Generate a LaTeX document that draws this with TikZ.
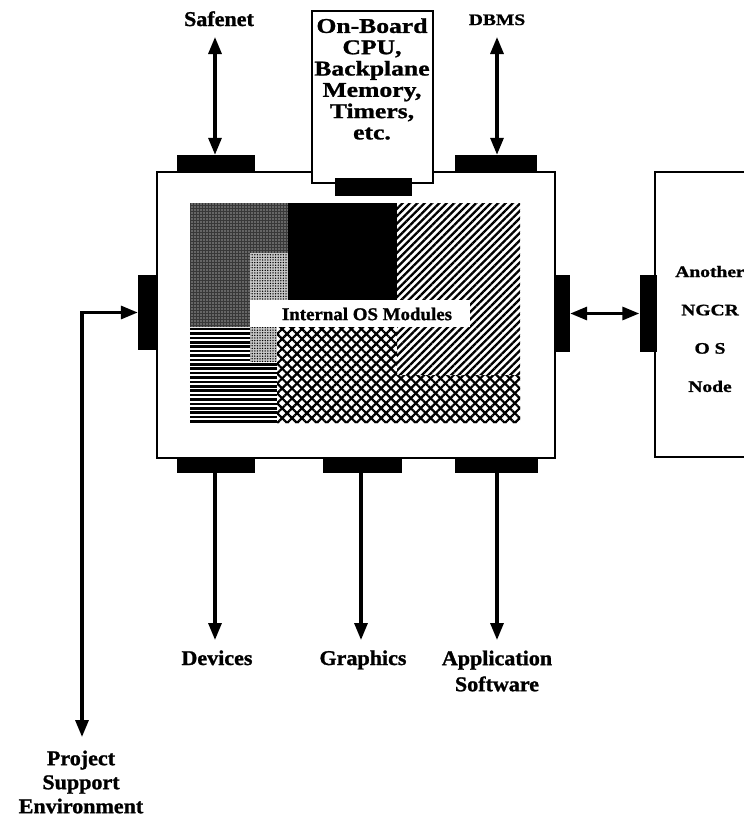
\documentclass[tikz,border=0pt]{standalone}
\usepackage{fontspec}
\setmainfont{Liberation Serif}[FakeStretch=1.05, BoldFeatures={FakeBold=1.2}]
\newfontfamily\widefont{Liberation Serif}[FakeStretch=1.22, BoldFeatures={FakeBold=1.2}]
\usetikzlibrary{arrows.meta,patterns.meta}
\begin{document}
\begin{tikzpicture}[x=1pt,y=-1pt,
  port/.style={fill=black, draw=none, inner sep=0pt, rectangle},
  hport/.style={port, minimum width=78pt, minimum height=17pt},
  vport/.style={port, minimum width=16pt, minimum height=77pt},
  lbl/.style={font=\bfseries\fontsize{21}{25}\selectfont, align=center, inner sep=0pt},
  smalllbl/.style={font=\widefont\bfseries\fontsize{16}{18}\selectfont, align=center, inner sep=0pt},
  boxst/.style={draw, line width=2.8pt, fill=white, inner sep=0pt, rectangle},
  tip/.tip={Triangle[length=17pt,width=13pt]},
  conn/.style={line width=3.2pt, tip-tip},
  connd/.style={line width=3.2pt, -tip}]
\useasboundingbox (0,0) rectangle (744,819);

% main OS node
\node[boxst, minimum width=398pt, minimum height=286pt] (main) at (356,315) {};

% internal modules
\fill[black!78] (190,203) -- (288,203) -- (288,253) -- (250,253) -- (250,327) -- (190,327) -- cycle;
\fill[pattern={Dots[distance=3pt,radius=0.6pt]}, pattern color=white]
  (190,203) -- (288,203) -- (288,253) -- (250,253) -- (250,327) -- (190,327) -- cycle;
\fill[black!22] (250,253) rectangle (288,300);
\fill[black!22] (250,327) rectangle (277,362);
\fill[pattern={Dots[distance=2.6pt,radius=0.75pt]}, pattern color=black] (250,253) rectangle (288,300);
\fill[pattern={Dots[distance=2.6pt,radius=0.75pt]}, pattern color=black] (250,327) rectangle (277,362);
\fill[black] (288,203) rectangle (397,300);
\fill[pattern={Lines[angle=45,distance=5.2pt,line width=2.3pt]}, pattern color=black]
  (397,203) -- (520,203) -- (520,375) -- (397,375) -- (397,300) -- cycle;
\begin{scope}
  \clip (190,327) -- (250,327) -- (250,362) -- (277,362) -- (277,423) -- (190,423) -- cycle;
  \foreach \yy in {329,333.4,...,424} \draw[line width=2.6pt] (190,\yy) -- (277,\yy);
\end{scope}
\fill[pattern={Lines[angle=45,distance=7pt,line width=2.2pt]}, pattern color=black]
  (277,327) -- (397,327) -- (397,375) -- (520,375) -- (520,423) -- (277,423) -- cycle;
\fill[pattern={Lines[angle=-45,distance=7pt,line width=2.2pt]}, pattern color=black]
  (277,327) -- (397,327) -- (397,375) -- (520,375) -- (520,423) -- (277,423) -- cycle;
\fill[white] (250,300) rectangle (470,327);
\node[inner sep=0pt, font=\bfseries\fontsize{18}{20}\selectfont] (iom) at (367,314) {Internal OS Modules};

% CPU box
\node[boxst, minimum width=121pt, minimum height=172pt] (cpu) at (372.5,97) {};
\node[inner sep=0pt, align=center, font=\widefont\bfseries\fontsize{21}{21.3}\selectfont] (cputext) at (372,79)
  {On-Board\\CPU,\\Backplane\\Memory,\\Timers,\\etc.};

% another node (partially visible)
\begin{scope}
\clip (0,0) rectangle (744,819);
\node[boxst, minimum width=200pt, minimum height=285pt] (other) at (755,314.5) {};
\end{scope}
\node[smalllbl, font=\widefont\bfseries\fontsize{16}{38.3}\selectfont] (othertext) at (710,329) {Another\\NGCR\\O S\\Node};

% ports
\node[hport] (psafe) at (216,163.5) {};
\node[hport, minimum width=82pt] (pdbms) at (496,163.5) {};
\node[hport, minimum width=77pt, minimum height=18pt] (pcpu) at (373,187) {};
\node[vport, minimum width=20pt, minimum height=75pt] (pl) at (148,312.5) {};
\node[vport, minimum width=15pt] (pr1) at (562.5,313.5) {};
\node[vport, minimum width=17pt] (pr2) at (648,313.5) {};
\node[hport, minimum height=14pt] (pdev) at (216,466) {};
\node[hport, minimum width=79pt, minimum height=14pt] (pgra) at (362.5,466) {};
\node[hport, minimum width=83pt, minimum height=14pt] (papp) at (496.5,466) {};

% labels
\node[lbl, anchor=base] (safenet) at (219,26) {Safenet};
\node[smalllbl, anchor=base] (dbms) at (497,25) {DBMS};
\node[lbl, anchor=base] (devices) at (217,665) {Devices};
\node[lbl, anchor=base] (graphics) at (363,665) {Graphics};
\node[lbl, font=\bfseries\fontsize{21}{26}\selectfont] (app) at (497,671) {Application\\Software};
\node[lbl, font=\bfseries\fontsize{21}{24}\selectfont] (pse) at (81,782) {Project\\Support\\Environment};

% connector free ends
\coordinate (safetop) at (215,37);
\coordinate (dbmstop) at (497,37);
\coordinate (devend) at (215,640);
\coordinate (graend) at (361,640);
\coordinate (append) at (497,640);
\coordinate (pseend) at (82,737);

% connectors
\draw[conn] (safetop) -- (safetop |- psafe.north);
\draw[conn] (dbmstop) -- (dbmstop |- pdbms.north);
\draw[connd] (devend |- pdev.south) -- (devend);
\draw[connd] (graend |- pgra.south) -- (graend);
\draw[connd] (append |- papp.south) -- (append);
\draw[conn] (pseend) |- (pl.west);
\draw[conn] (pr1.east) -- (pr2.west);
\end{tikzpicture}
\end{document}
